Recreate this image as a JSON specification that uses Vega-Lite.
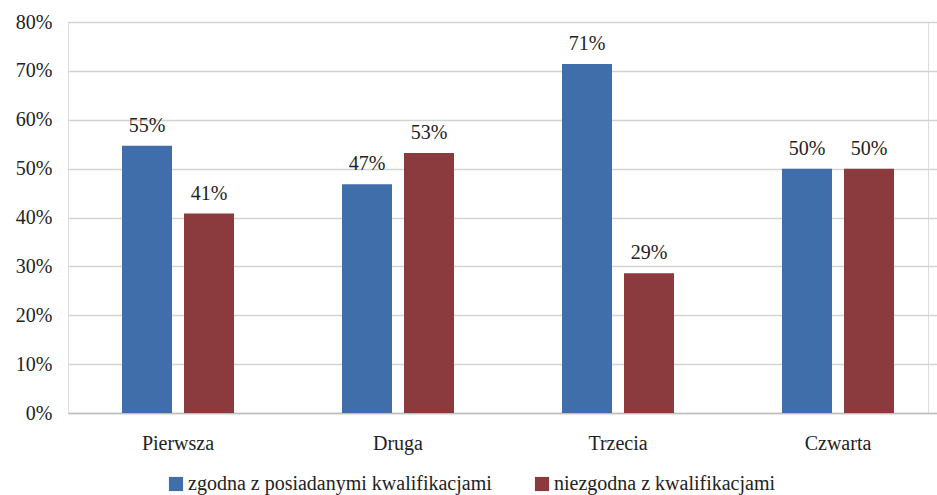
{
  "$schema": "https://vega.github.io/schema/vega-lite/v6.json",
  "autosize": {"type": "none"},
  "width": 860,
  "height": 391,
  "padding": {"left": 68, "top": 22, "right": 9, "bottom": 82},
  "background": "white",
  "config": {"font": "Liberation Serif, Times New Roman, serif"},
  "data": {
    "values": [
      {"cat": "Pierwsza", "series": "zgodna z posiadanymi kwalifikacjami", "value": 0.547},
      {"cat": "Pierwsza", "series": "niezgodna z kwalifikacjami", "value": 0.408},
      {"cat": "Druga", "series": "zgodna z posiadanymi kwalifikacjami", "value": 0.468},
      {"cat": "Druga", "series": "niezgodna z kwalifikacjami", "value": 0.532},
      {"cat": "Trzecia", "series": "zgodna z posiadanymi kwalifikacjami", "value": 0.714},
      {"cat": "Trzecia", "series": "niezgodna z kwalifikacjami", "value": 0.286},
      {"cat": "Czwarta", "series": "zgodna z posiadanymi kwalifikacjami", "value": 0.5},
      {"cat": "Czwarta", "series": "niezgodna z kwalifikacjami", "value": 0.5}
    ]
  },
  "encoding": {
    "x": {
      "field": "cat", "type": "nominal", "sort": ["Pierwsza", "Druga", "Trzecia", "Czwarta"],
      "scale": {"paddingInner": 0, "paddingOuter": 0, "range": [0, 880]},
      "axis": {"title": null, "labelAngle": 0, "ticks": false, "domainColor": "#bdbdbd", "domainWidth": 1.5,
               "labelFont": "Liberation Serif, Times New Roman, serif", "labelFontSize": 20, "labelColor": "#222", "labelPadding": 20}
    },
    "xOffset": {
      "field": "series", "type": "nominal",
      "sort": ["zgodna z posiadanymi kwalifikacjami", "niezgodna z kwalifikacjami"],
      "scale": {"paddingInner": 0.1935, "paddingOuter": 0.871}
    },
    "y": {
      "field": "value", "type": "quantitative",
      "scale": {"domain": [0, 0.8], "nice": false},
      "axis": {"title": null, "values": [0, 0.1, 0.2, 0.3, 0.4, 0.5, 0.6, 0.7, 0.8], "format": ".0%",
               "domain": false, "ticks": false, "grid": true, "gridColor": "#d3d3d3", "gridWidth": 1.5,
               "labelFont": "Liberation Serif, Times New Roman, serif", "labelFontSize": 20, "labelColor": "#222", "labelPadding": 16}
    }
  },
  "layer": [
    {
      "mark": {"type": "bar"},
      "encoding": {
        "color": {
          "field": "series", "type": "nominal",
          "sort": ["zgodna z posiadanymi kwalifikacjami", "niezgodna z kwalifikacjami"],
          "scale": {"domain": ["zgodna z posiadanymi kwalifikacjami", "niezgodna z kwalifikacjami"], "range": ["#3f6eab", "#8b3a3e"]},
          "legend": {
            "title": null, "orient": "none", "direction": "horizontal", "legendX": 98, "legendY": 452,
            "symbolType": "square", "symbolSize": 200, "symbolStrokeWidth": 0, "symbolOpacity": 1,
            "labelFont": "Liberation Serif, Times New Roman, serif", "labelFontSize": 20, "labelColor": "#222", "labelOffset": 2,
            "columnPadding": 40, "labelLimit": 500
          }
        }
      }
    },
    {
      "mark": {"type": "text", "baseline": "alphabetic", "dy": -14, "font": "Liberation Serif, Times New Roman, serif", "fontSize": 20, "color": "#222"},
      "encoding": {
        "text": {"field": "value", "type": "quantitative", "format": ".0%"}
      }
    }
  ]
}
